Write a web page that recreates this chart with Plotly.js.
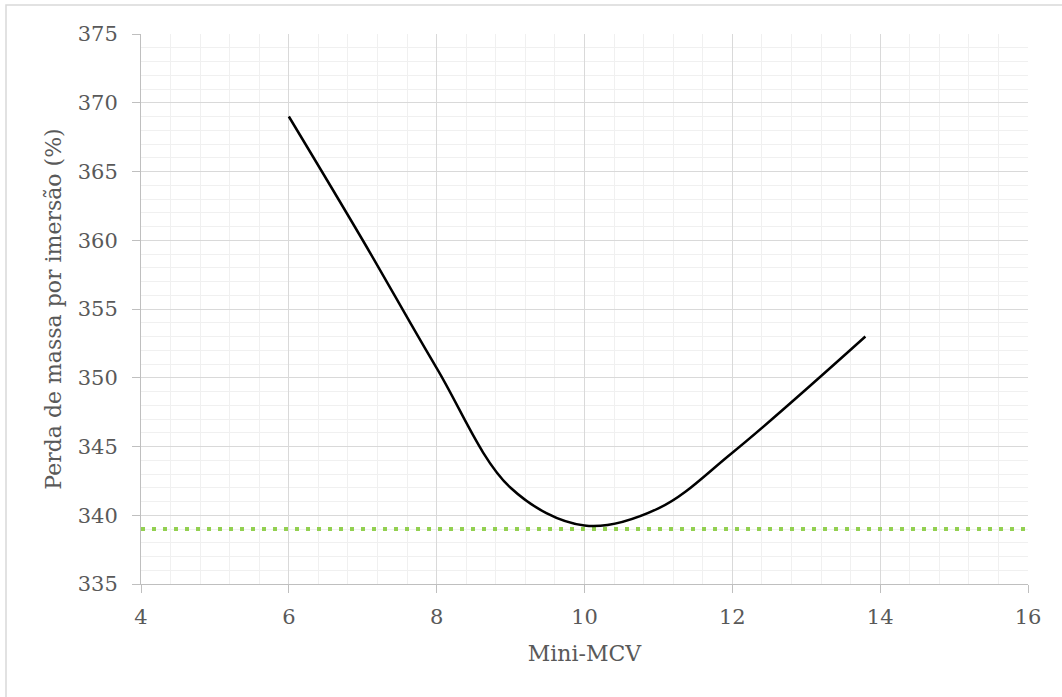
<!DOCTYPE html>
<html>
<head>
<meta charset="utf-8">
<script src="https://cdn.plot.ly/plotly-3.0.1.min.js"></script>
<style>
  html, body { margin: 0; padding: 0; background: #ffffff; }
  #chart { width: 1062px; height: 697px; }
</style>
</head>
<body>
<div id="chart"></div>
<script>
// Mass loss by immersion versus Mini-MCV
const miniMcv = [6, 7, 8, 9, 10, 11, 12, 13.8];
const perdaMassa = [369, 360, 350.7, 342.0, 339.25, 340.5, 344.55, 353];

// Reference level across the whole axis range
const refX = [4, 16];
const refY = [339, 339];

const xTicks = [4, 6, 8, 10, 12, 14, 16];
const yTicks = [335, 340, 345, 350, 355, 360, 365, 370, 375];

const fontFamily = '"DejaVu Serif", "Liberation Serif", serif';
const textColor = '#595959';

const traces = [
  {
    x: refX, y: refY,
    type: 'scatter', mode: 'lines',
    line: { color: '#92D050', width: 4, dash: '4px,7px' },
    hoverinfo: 'skip', showlegend: false
  },
  {
    x: miniMcv, y: perdaMassa,
    type: 'scatter', mode: 'lines',
    line: { color: '#000000', width: 2.5, shape: 'spline', smoothing: 1 },
    showlegend: false
  }
];

const layout = {
  width: 1062, height: 697,
  margin: { l: 141, r: 34, t: 34, b: 113 },
  paper_bgcolor: '#ffffff', plot_bgcolor: '#ffffff',
  font: { family: fontFamily, color: textColor, size: 20 },
  xaxis: {
    range: [4, 16],
    tickvals: xTicks,
    ticktext: xTicks.map(String),
    showgrid: true, gridcolor: '#D9D9D9', gridwidth: 1,
    minor: { dtick: 0.4, tick0: 4, showgrid: true, gridcolor: '#F0F0F0', gridwidth: 1, ticks: '' },
    showline: true, linecolor: '#BFBFBF', linewidth: 1,
    ticks: 'outside', ticklen: 8, tickcolor: '#BFBFBF', tickwidth: 1,
    ticklabelstandoff: 6,
    tickfont: { family: fontFamily, size: 21, color: textColor },
    zeroline: false,
    title: { text: 'Mini-MCV', font: { family: fontFamily, size: 22, color: textColor }, standoff: 17 }
  },
  yaxis: {
    range: [335, 375],
    tickvals: yTicks,
    ticktext: yTicks.map(String),
    showgrid: true, gridcolor: '#D9D9D9', gridwidth: 1,
    minor: { dtick: 1, tick0: 335, showgrid: true, gridcolor: '#F0F0F0', gridwidth: 1, ticks: '' },
    showline: true, linecolor: '#BFBFBF', linewidth: 1,
    ticks: 'outside', ticklen: 8, tickcolor: '#BFBFBF', tickwidth: 1,
    ticklabelstandoff: 10,
    tickfont: { family: fontFamily, size: 21, color: textColor },
    zeroline: false,
    title: { text: 'Perda de massa por imersão (%)', font: { family: fontFamily, size: 22, color: textColor }, standoff: 10 }
  },
  shapes: [
    // chart frame (top and left edges fall inside the page)
    { type: 'rect', xref: 'paper', yref: 'paper',
      x0: -141/887 + 6/887, x1: 1 + 60/887,
      y0: -150/550, y1: 1 + 29/550,
      line: { color: '#D9D9D9', width: 1.5 }, fillcolor: 'rgba(0,0,0,0)', layer: 'below' }
  ],
  showlegend: false
};

Plotly.newPlot('chart', traces, layout, { displayModeBar: false, staticPlot: true });
</script>
</body>
</html>
